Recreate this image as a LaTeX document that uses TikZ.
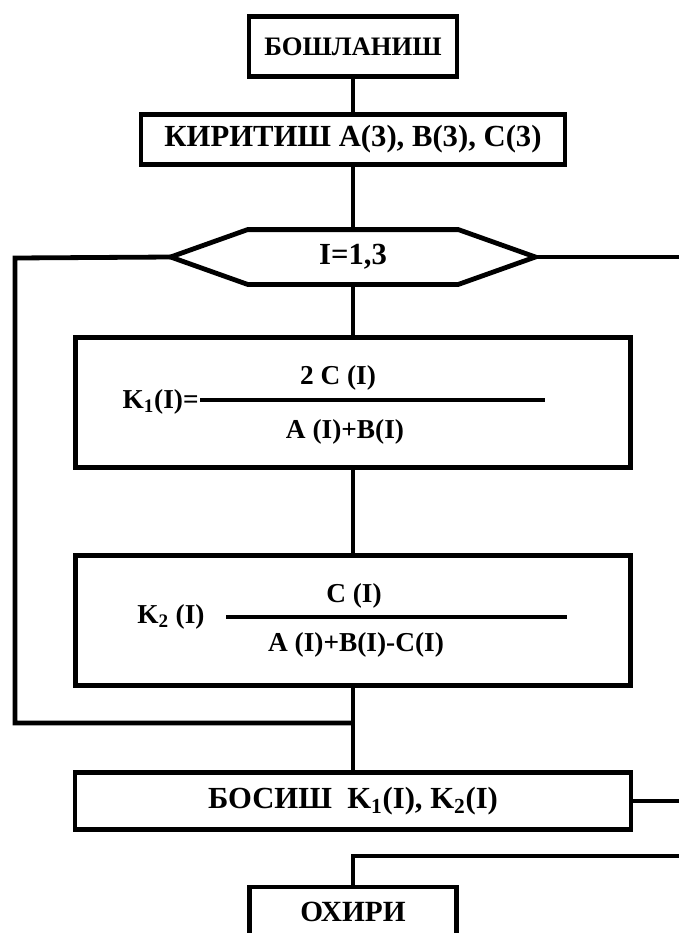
\documentclass[tikz,border=0pt]{standalone}
\usepackage{fontspec}
\setmainfont{Liberation Serif}
\usetikzlibrary{calc}
\begin{document}
\begin{tikzpicture}[x=0.75pt,y=-0.75pt,line width=3.6pt,
  font=\bfseries\fontsize{20}{24}\selectfont,
  box/.style={draw,rectangle,inner sep=0pt},
  txt/.style={inner sep=0pt},
  big/.style={font=\bfseries\fontsize{23}{27}\selectfont},
  frac/.style={inner sep=0pt,font=\bfseries\fontsize{20.5}{24}\selectfont}]
\useasboundingbox (0,0) rectangle (679,933);
\clip (0,0) rectangle (679,933);
% boxes
\node[box,minimum width=156pt,minimum height=45pt] (start) at (353,46.5) {БОШЛАНИШ};
\node[box,big,minimum width=318pt,minimum height=37.5pt] (inp) at (353,139.5) {КИРИТИШ A(3), B(3), C(3)};
\node[txt,big,minimum width=270pt,minimum height=37.5pt] (loop) at (353,257) {I=1,3};
\draw[line join=miter] (loop.west) -- ($(loop.north west)+(77,0)$) -- ($(loop.north east)+(-77,0)$)
  -- (loop.east) -- ($(loop.south east)+(-77,0)$) -- ($(loop.south west)+(77,0)$) -- cycle;
\node[box,minimum width=416pt,minimum height=97.5pt] (k1) at (353,402.5) {};
\node[box,minimum width=416pt,minimum height=97.5pt] (k2) at (353,620.5) {};
\node[box,big,minimum width=417pt,minimum height=42.75pt] (out) at (353,801) {БОСИШ\ \ K\textsubscript{1}(I), K\textsubscript{2}(I)};
\node[box,minimum width=155pt,minimum height=45pt] (fin) at (353,917) {};
\node[txt,font=\bfseries\fontsize{22}{26}\selectfont] (fintxt) at (353,912) {ОХИРИ};
% formula 1
\node[frac,anchor=east] (k1lab) at (201,402) {K\textsubscript{1}(I)=};
\coordinate (f1a) at (200,400);
\coordinate (f1b) at (545,400);
\draw[line width=3pt] (f1a) -- (f1b);
\node[frac] (k1num) at (338,378) {2 C (I)};
\node[frac] (k1den) at (345,432) {A (I)+B(I)};
% formula 2
\node[frac] (k2lab) at (171,617) {K\textsubscript{2} (I)};
\coordinate (f2a) at (226,617);
\coordinate (f2b) at (567,617);
\draw[line width=3pt] (f2a) -- (f2b);
\node[frac] (k2num) at (354,596) {C (I)};
\node[frac] (k2den) at (356,645) {A (I)+B(I)-C(I)};
% connectors
\draw (start.south) -- (inp.north);
\draw (inp.south) -- (loop.north);
\draw (loop.south) -- (k1.north);
\draw (k1.south) -- (k2.north);
\draw (k2.south) -- (out.north);
\coordinate (l1) at (15,258);
\coordinate (l2) at (15,723);
\coordinate (j) at (353,723);
\draw[line join=miter] (loop.west) -- (l1) -- (l2) -- (j);
\coordinate (r1) at (690,257);
\draw (loop.east) -- (r1);
\coordinate (r2) at (690,801);
\draw (out.east) -- (r2);
\coordinate (r3) at (690,856);
\coordinate (r4) at (353,856);
\draw[line join=miter] (r3) -- (r4) -- (fin.north);
\end{tikzpicture}
\end{document}
